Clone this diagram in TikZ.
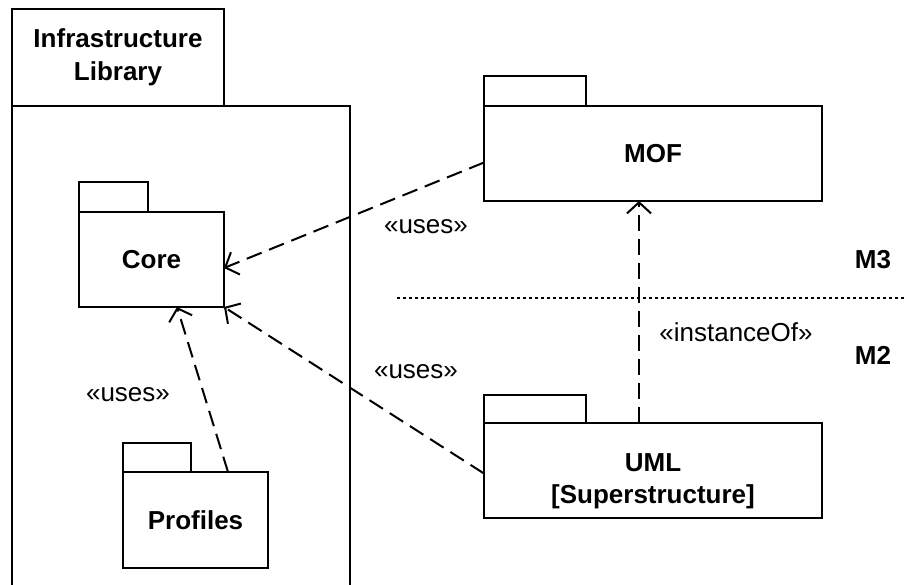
\documentclass[tikz,border=0pt]{standalone}
\usepackage{fontspec}
\setmainfont{Liberation Sans}
\usetikzlibrary{positioning,calc,arrows.meta}

\begin{document}
\begin{tikzpicture}[
    x=1pt, y=-1pt,
    every node/.style={font=\fontsize{26pt}{32pt}\selectfont},
    pkg/.style={draw, line width=2pt, align=center, inner sep=0pt, outer sep=0pt, font=\fontsize{26pt}{32pt}\selectfont\bfseries},
    pkgtab/.style={draw, line width=2pt, anchor=south west, inner sep=0pt, outer sep=0pt, align=center, font=\fontsize{26pt}{33pt}\selectfont\bfseries},
    pkgtext/.style={align=center, inner sep=0pt, font=\fontsize{26pt}{32pt}\selectfont\bfseries},
    dep/.style={dash pattern=on 16pt off 8pt, line width=2pt, -{Straight Barb[length=11pt,width=24pt]}},
    sepline/.style={dash pattern=on 3pt off 3pt, line width=1.5pt},
    lvl/.style={font=\fontsize{26pt}{32pt}\selectfont\bfseries}
]
    \clip (0,0) rectangle (904,584);

    % infrastructure library
    \node[pkg, minimum width=338pt, minimum height=494pt] (infra) at (181,353) {};
    \node[pkgtab, minimum width=212pt, minimum height=97pt] (infratab) at (infra.north west) {Infrastructure\\Library};

    % packages
    \node[pkg, minimum width=145pt, minimum height=95pt] (core) at (151.5,259.5) {Core};
    \node[pkgtab, minimum width=69pt, minimum height=30pt] (coretab) at (core.north west) {};

    \node[pkg, minimum width=145pt, minimum height=96pt] (profiles) at (195.5,520) {Profiles};
    \node[pkgtab, minimum width=68pt, minimum height=29pt] (profilestab) at (profiles.north west) {};

    \node[pkg, minimum width=338pt, minimum height=95pt] (mof) at (653,153.5) {MOF};
    \node[pkgtab, minimum width=102pt, minimum height=30pt] (moftab) at (mof.north west) {};

    \node[pkg, minimum width=338pt, minimum height=95pt] (uml) at (653,470.5) {};
    \node[pkgtab, minimum width=102pt, minimum height=28pt] (umltab) at (uml.north west) {};
    \node[pkgtext] (umltext) at ($(uml.center)+(0,11)$) {UML\\{[Superstructure]}};

    % dependencies
    \coordinate (mofout) at ($(mof.west)+(0,9)$);
    \coordinate (corein) at ($(core.east)+(0,8.5)$);
    \draw[dep] (mofout) -- (corein);
    \draw[dep] ($(uml.west)+(0,3)$) -- (core.south east);
    \draw[dep] ($(uml.north)+(-14,0)$) -- ($(mof.south)+(-14,0)$);
    \draw[dep] ($(profiles.north)+(32.5,0)$) -- ($(core.south)+(25.5,0)$);

    \node (usesmof) at (426,227) {«uses»};
    \node (usesuml) at (416,372) {«uses»};
    \node (usesprof) at (128,395) {«uses»};
    \node (instof) at (736,332) {«instanceOf»};

    % meta levels
    \coordinate (sepl) at (397,298);
    \coordinate (sepr) at (904,298);
    \draw[sepline] (sepl) -- (sepr);
    \node[lvl] (mthree) at (873,260) {M3};
    \node[lvl] (mtwo) at (873,355) {M2};
\end{tikzpicture}
\end{document}
